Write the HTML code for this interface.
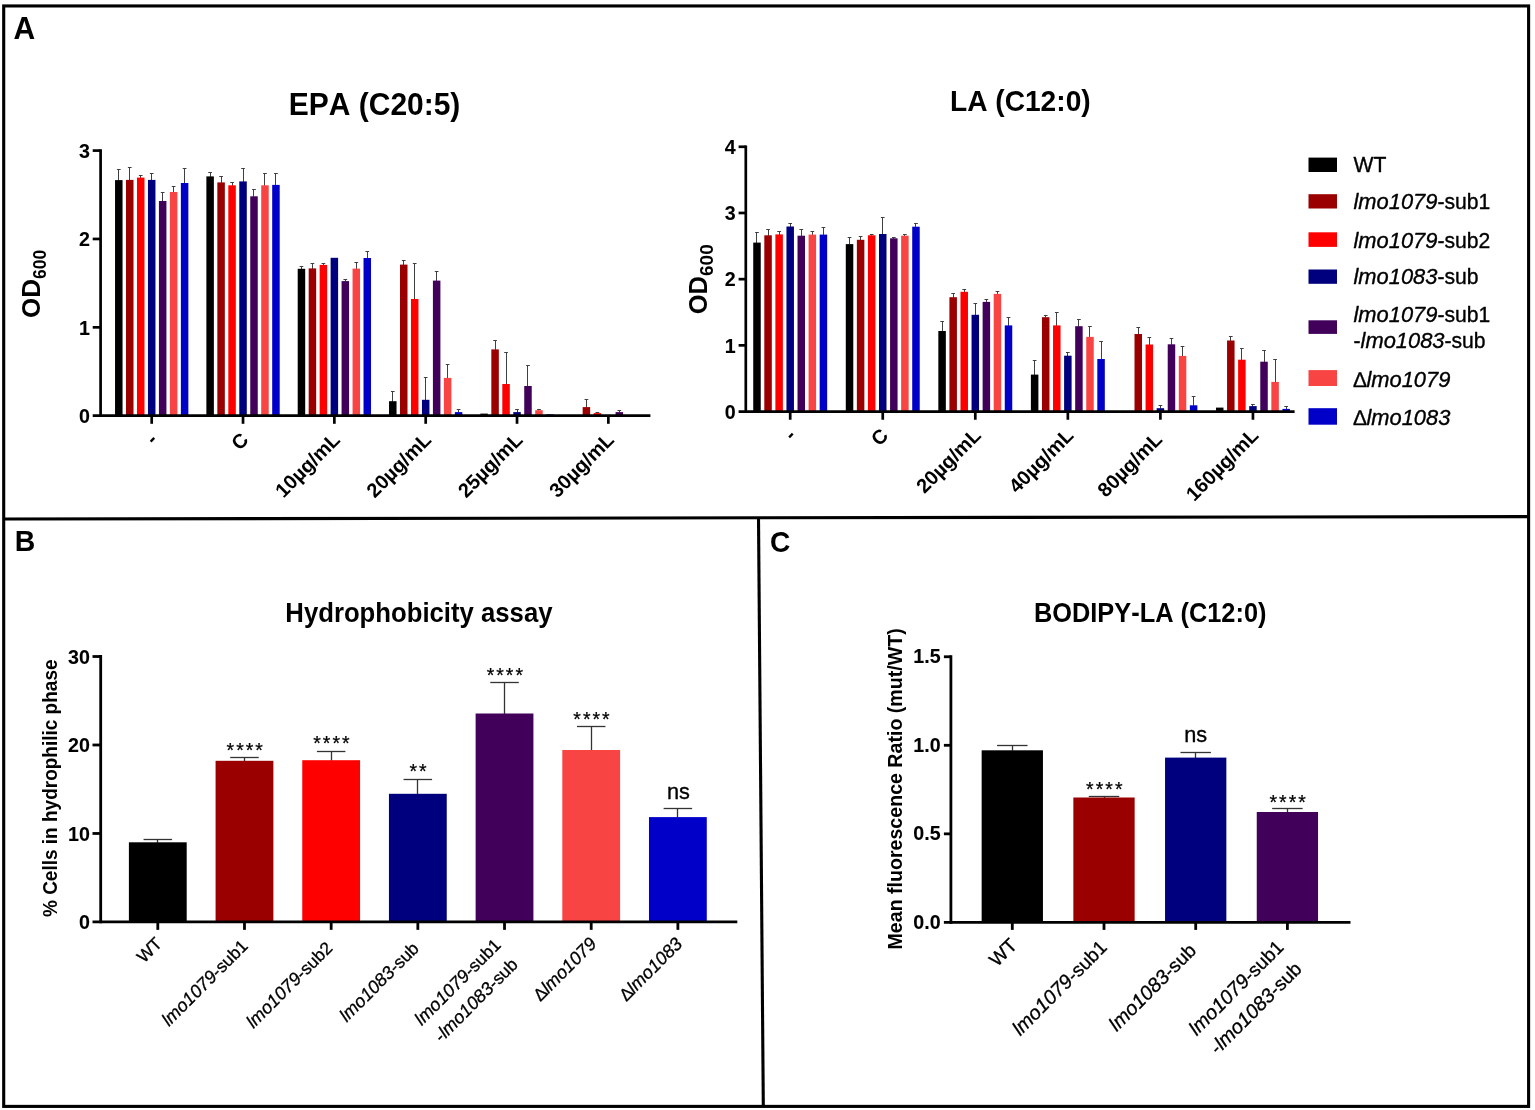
<!DOCTYPE html>
<html lang="en">
<head>
<meta charset="utf-8">
<title>Fatty acid susceptibility, hydrophobicity assay and BODIPY-LA uptake</title>
<style>
html,body{margin:0;padding:0;background:#fff;}
body{width:1535px;height:1110px;overflow:hidden;}
svg{display:block;font-family:"Liberation Sans",sans-serif;fill:#000;font-kerning:none;}
</style>
</head>
<body>
<svg width="1535" height="1110" viewBox="0 0 1535 1110" role="img" aria-label="Figure with panels A, B and C: growth (OD600) with EPA and LA, hydrophobicity assay, and BODIPY-LA fluorescence ratio">
<rect x="0" y="0" width="1535" height="1110" fill="#fff"/>
<rect x="3.7" y="5.95" width="1524.9" height="1100.45" fill="none" stroke="#000" stroke-width="3.1"/>
<line x1="3.70" y1="519.00" x2="1528.60" y2="516.60" stroke="#000" stroke-width="3.1" stroke-linecap="butt"/>
<line x1="758.50" y1="517.50" x2="763.30" y2="1106.00" stroke="#000" stroke-width="3.1" stroke-linecap="butt"/>
<text x="0" y="0" font-size="31" font-weight="bold" text-anchor="start" transform="translate(13.40 38.90) scale(0.97 1)">A</text>
<text x="0" y="0" font-size="29.3" font-weight="bold" text-anchor="start" transform="translate(14.70 551.20) scale(0.97 1)">B</text>
<text x="0" y="0" font-size="30.3" font-weight="bold" text-anchor="start" transform="translate(769.90 551.50) scale(0.93 1)">C</text>
<text x="0" y="0" font-size="31.3" font-weight="bold" text-anchor="middle" transform="translate(374.60 115.20) scale(0.958 1)">EPA (C20:5)</text>
<text x="0" y="0" font-size="30.3" font-weight="bold" text-anchor="middle" transform="translate(1020.30 111.10) scale(0.929 1)">LA (C12:0)</text>
<text x="0" y="0" font-size="26.8" font-weight="bold" text-anchor="middle" transform="translate(418.90 622.20) scale(0.96 1)">Hydrophobicity assay</text>
<text x="0" y="0" font-size="26.8" font-weight="bold" text-anchor="middle" transform="translate(1150.20 622.30) scale(0.947 1)">BODIPY-LA (C12:0)</text>
<line x1="118.50" y1="169.50" x2="118.50" y2="180.60" stroke="#404040" stroke-width="1.0" stroke-linecap="butt"/>
<line x1="116.94" y1="169.50" x2="120.64" y2="169.50" stroke="#404040" stroke-width="1.0" stroke-linecap="butt"/>
<rect x="115.04" y="180.10" width="7.50" height="235.60" fill="#000000"/>
<line x1="129.50" y1="167.50" x2="129.50" y2="180.40" stroke="#404040" stroke-width="1.0" stroke-linecap="butt"/>
<line x1="127.91" y1="167.50" x2="131.61" y2="167.50" stroke="#404040" stroke-width="1.0" stroke-linecap="butt"/>
<rect x="126.01" y="179.90" width="7.50" height="235.80" fill="#9a0000"/>
<line x1="140.50" y1="175.50" x2="140.50" y2="178.10" stroke="#404040" stroke-width="1.0" stroke-linecap="butt"/>
<line x1="138.88" y1="175.50" x2="142.58" y2="175.50" stroke="#404040" stroke-width="1.0" stroke-linecap="butt"/>
<rect x="136.98" y="177.60" width="7.50" height="238.10" fill="#ff0000"/>
<line x1="151.50" y1="173.50" x2="151.50" y2="180.40" stroke="#404040" stroke-width="1.0" stroke-linecap="butt"/>
<line x1="149.85" y1="173.50" x2="153.55" y2="173.50" stroke="#404040" stroke-width="1.0" stroke-linecap="butt"/>
<rect x="147.95" y="179.90" width="7.50" height="235.80" fill="#00007f"/>
<line x1="162.50" y1="192.50" x2="162.50" y2="201.50" stroke="#404040" stroke-width="1.0" stroke-linecap="butt"/>
<line x1="160.82" y1="192.50" x2="164.52" y2="192.50" stroke="#404040" stroke-width="1.0" stroke-linecap="butt"/>
<rect x="158.92" y="201.00" width="7.50" height="214.70" fill="#41005a"/>
<line x1="173.50" y1="186.50" x2="173.50" y2="192.50" stroke="#404040" stroke-width="1.0" stroke-linecap="butt"/>
<line x1="171.79" y1="186.50" x2="175.49" y2="186.50" stroke="#404040" stroke-width="1.0" stroke-linecap="butt"/>
<rect x="169.89" y="192.00" width="7.50" height="223.70" fill="#f94444"/>
<line x1="184.50" y1="168.50" x2="184.50" y2="183.50" stroke="#404040" stroke-width="1.0" stroke-linecap="butt"/>
<line x1="182.76" y1="168.50" x2="186.46" y2="168.50" stroke="#404040" stroke-width="1.0" stroke-linecap="butt"/>
<rect x="180.86" y="183.00" width="7.50" height="232.70" fill="#0000c8"/>
<line x1="210.50" y1="172.50" x2="210.50" y2="176.90" stroke="#404040" stroke-width="1.0" stroke-linecap="butt"/>
<line x1="208.27" y1="172.50" x2="211.97" y2="172.50" stroke="#404040" stroke-width="1.0" stroke-linecap="butt"/>
<rect x="206.37" y="176.40" width="7.50" height="239.30" fill="#000000"/>
<line x1="221.50" y1="176.50" x2="221.50" y2="182.90" stroke="#404040" stroke-width="1.0" stroke-linecap="butt"/>
<line x1="219.24" y1="176.50" x2="222.94" y2="176.50" stroke="#404040" stroke-width="1.0" stroke-linecap="butt"/>
<rect x="217.34" y="182.40" width="7.50" height="233.30" fill="#9a0000"/>
<line x1="232.50" y1="182.50" x2="232.50" y2="185.80" stroke="#404040" stroke-width="1.0" stroke-linecap="butt"/>
<line x1="230.21" y1="182.50" x2="233.91" y2="182.50" stroke="#404040" stroke-width="1.0" stroke-linecap="butt"/>
<rect x="228.31" y="185.30" width="7.50" height="230.40" fill="#ff0000"/>
<line x1="243.50" y1="168.50" x2="243.50" y2="181.90" stroke="#404040" stroke-width="1.0" stroke-linecap="butt"/>
<line x1="241.18" y1="168.50" x2="244.88" y2="168.50" stroke="#404040" stroke-width="1.0" stroke-linecap="butt"/>
<rect x="239.28" y="181.40" width="7.50" height="234.30" fill="#00007f"/>
<line x1="253.50" y1="189.50" x2="253.50" y2="196.80" stroke="#404040" stroke-width="1.0" stroke-linecap="butt"/>
<line x1="252.15" y1="189.50" x2="255.85" y2="189.50" stroke="#404040" stroke-width="1.0" stroke-linecap="butt"/>
<rect x="250.25" y="196.30" width="7.50" height="219.40" fill="#41005a"/>
<line x1="264.50" y1="173.50" x2="264.50" y2="185.80" stroke="#404040" stroke-width="1.0" stroke-linecap="butt"/>
<line x1="263.12" y1="173.50" x2="266.82" y2="173.50" stroke="#404040" stroke-width="1.0" stroke-linecap="butt"/>
<rect x="261.22" y="185.30" width="7.50" height="230.40" fill="#f94444"/>
<line x1="275.50" y1="173.50" x2="275.50" y2="185.40" stroke="#404040" stroke-width="1.0" stroke-linecap="butt"/>
<line x1="274.09" y1="173.50" x2="277.79" y2="173.50" stroke="#404040" stroke-width="1.0" stroke-linecap="butt"/>
<rect x="272.19" y="184.90" width="7.50" height="230.80" fill="#0000c8"/>
<line x1="301.50" y1="266.50" x2="301.50" y2="269.30" stroke="#404040" stroke-width="1.0" stroke-linecap="butt"/>
<line x1="299.60" y1="266.50" x2="303.30" y2="266.50" stroke="#404040" stroke-width="1.0" stroke-linecap="butt"/>
<rect x="297.70" y="268.80" width="7.50" height="146.90" fill="#000000"/>
<line x1="312.50" y1="263.50" x2="312.50" y2="268.90" stroke="#404040" stroke-width="1.0" stroke-linecap="butt"/>
<line x1="310.57" y1="263.50" x2="314.27" y2="263.50" stroke="#404040" stroke-width="1.0" stroke-linecap="butt"/>
<rect x="308.67" y="268.40" width="7.50" height="147.30" fill="#9a0000"/>
<line x1="323.50" y1="263.50" x2="323.50" y2="265.40" stroke="#404040" stroke-width="1.0" stroke-linecap="butt"/>
<line x1="321.54" y1="263.50" x2="325.24" y2="263.50" stroke="#404040" stroke-width="1.0" stroke-linecap="butt"/>
<rect x="319.64" y="264.90" width="7.50" height="150.80" fill="#ff0000"/>
<rect x="330.61" y="257.80" width="7.50" height="157.90" fill="#00007f"/>
<line x1="345.50" y1="279.50" x2="345.50" y2="281.60" stroke="#404040" stroke-width="1.0" stroke-linecap="butt"/>
<line x1="343.48" y1="279.50" x2="347.18" y2="279.50" stroke="#404040" stroke-width="1.0" stroke-linecap="butt"/>
<rect x="341.58" y="281.10" width="7.50" height="134.60" fill="#41005a"/>
<line x1="356.50" y1="262.50" x2="356.50" y2="269.10" stroke="#404040" stroke-width="1.0" stroke-linecap="butt"/>
<line x1="354.45" y1="262.50" x2="358.15" y2="262.50" stroke="#404040" stroke-width="1.0" stroke-linecap="butt"/>
<rect x="352.55" y="268.60" width="7.50" height="147.10" fill="#f94444"/>
<line x1="367.50" y1="251.50" x2="367.50" y2="258.50" stroke="#404040" stroke-width="1.0" stroke-linecap="butt"/>
<line x1="365.42" y1="251.50" x2="369.12" y2="251.50" stroke="#404040" stroke-width="1.0" stroke-linecap="butt"/>
<rect x="363.52" y="258.00" width="7.50" height="157.70" fill="#0000c8"/>
<line x1="392.50" y1="391.50" x2="392.50" y2="401.70" stroke="#404040" stroke-width="1.0" stroke-linecap="butt"/>
<line x1="390.93" y1="391.50" x2="394.63" y2="391.50" stroke="#404040" stroke-width="1.0" stroke-linecap="butt"/>
<rect x="389.03" y="401.20" width="7.50" height="14.50" fill="#000000"/>
<line x1="403.50" y1="260.50" x2="403.50" y2="265.10" stroke="#404040" stroke-width="1.0" stroke-linecap="butt"/>
<line x1="401.90" y1="260.50" x2="405.60" y2="260.50" stroke="#404040" stroke-width="1.0" stroke-linecap="butt"/>
<rect x="400.00" y="264.60" width="7.50" height="151.10" fill="#9a0000"/>
<line x1="414.50" y1="263.50" x2="414.50" y2="299.50" stroke="#404040" stroke-width="1.0" stroke-linecap="butt"/>
<line x1="412.87" y1="263.50" x2="416.57" y2="263.50" stroke="#404040" stroke-width="1.0" stroke-linecap="butt"/>
<rect x="410.97" y="299.00" width="7.50" height="116.70" fill="#ff0000"/>
<line x1="425.50" y1="377.50" x2="425.50" y2="400.30" stroke="#404040" stroke-width="1.0" stroke-linecap="butt"/>
<line x1="423.84" y1="377.50" x2="427.54" y2="377.50" stroke="#404040" stroke-width="1.0" stroke-linecap="butt"/>
<rect x="421.94" y="399.80" width="7.50" height="15.90" fill="#00007f"/>
<line x1="436.50" y1="271.50" x2="436.50" y2="281.10" stroke="#404040" stroke-width="1.0" stroke-linecap="butt"/>
<line x1="434.81" y1="271.50" x2="438.51" y2="271.50" stroke="#404040" stroke-width="1.0" stroke-linecap="butt"/>
<rect x="432.91" y="280.60" width="7.50" height="135.10" fill="#41005a"/>
<line x1="447.50" y1="364.50" x2="447.50" y2="378.40" stroke="#404040" stroke-width="1.0" stroke-linecap="butt"/>
<line x1="445.78" y1="364.50" x2="449.48" y2="364.50" stroke="#404040" stroke-width="1.0" stroke-linecap="butt"/>
<rect x="443.88" y="377.90" width="7.50" height="37.80" fill="#f94444"/>
<line x1="458.50" y1="409.50" x2="458.50" y2="412.60" stroke="#404040" stroke-width="1.0" stroke-linecap="butt"/>
<line x1="456.75" y1="409.50" x2="460.45" y2="409.50" stroke="#404040" stroke-width="1.0" stroke-linecap="butt"/>
<rect x="454.85" y="412.10" width="7.50" height="3.60" fill="#0000c8"/>
<rect x="480.36" y="413.60" width="7.50" height="2.10" fill="#000000"/>
<line x1="495.50" y1="340.50" x2="495.50" y2="349.90" stroke="#404040" stroke-width="1.0" stroke-linecap="butt"/>
<line x1="493.23" y1="340.50" x2="496.93" y2="340.50" stroke="#404040" stroke-width="1.0" stroke-linecap="butt"/>
<rect x="491.33" y="349.40" width="7.50" height="66.30" fill="#9a0000"/>
<line x1="506.50" y1="352.50" x2="506.50" y2="384.50" stroke="#404040" stroke-width="1.0" stroke-linecap="butt"/>
<line x1="504.20" y1="352.50" x2="507.90" y2="352.50" stroke="#404040" stroke-width="1.0" stroke-linecap="butt"/>
<rect x="502.30" y="384.00" width="7.50" height="31.70" fill="#ff0000"/>
<line x1="517.50" y1="409.50" x2="517.50" y2="412.60" stroke="#404040" stroke-width="1.0" stroke-linecap="butt"/>
<line x1="515.17" y1="409.50" x2="518.87" y2="409.50" stroke="#404040" stroke-width="1.0" stroke-linecap="butt"/>
<rect x="513.27" y="412.10" width="7.50" height="3.60" fill="#00007f"/>
<line x1="527.50" y1="365.50" x2="527.50" y2="386.50" stroke="#404040" stroke-width="1.0" stroke-linecap="butt"/>
<line x1="526.14" y1="365.50" x2="529.84" y2="365.50" stroke="#404040" stroke-width="1.0" stroke-linecap="butt"/>
<rect x="524.24" y="386.00" width="7.50" height="29.70" fill="#41005a"/>
<line x1="538.50" y1="409.50" x2="538.50" y2="410.70" stroke="#404040" stroke-width="1.0" stroke-linecap="butt"/>
<line x1="537.11" y1="409.50" x2="540.81" y2="409.50" stroke="#404040" stroke-width="1.0" stroke-linecap="butt"/>
<rect x="535.21" y="410.20" width="7.50" height="5.50" fill="#f94444"/>
<rect x="546.18" y="414.30" width="7.50" height="1.40" fill="#0000c8"/>
<line x1="586.50" y1="399.50" x2="586.50" y2="407.60" stroke="#404040" stroke-width="1.0" stroke-linecap="butt"/>
<line x1="584.56" y1="399.50" x2="588.26" y2="399.50" stroke="#404040" stroke-width="1.0" stroke-linecap="butt"/>
<rect x="582.66" y="407.10" width="7.50" height="8.60" fill="#9a0000"/>
<line x1="597.50" y1="412.50" x2="597.50" y2="413.60" stroke="#404040" stroke-width="1.0" stroke-linecap="butt"/>
<line x1="595.53" y1="412.50" x2="599.23" y2="412.50" stroke="#404040" stroke-width="1.0" stroke-linecap="butt"/>
<rect x="593.63" y="413.10" width="7.50" height="2.60" fill="#ff0000"/>
<line x1="619.50" y1="410.50" x2="619.50" y2="412.60" stroke="#404040" stroke-width="1.0" stroke-linecap="butt"/>
<line x1="617.47" y1="410.50" x2="621.17" y2="410.50" stroke="#404040" stroke-width="1.0" stroke-linecap="butt"/>
<rect x="615.57" y="412.10" width="7.50" height="3.60" fill="#41005a"/>
<line x1="100.60" y1="149.25" x2="100.60" y2="417.05" stroke="#000" stroke-width="2.7" stroke-linecap="butt"/>
<line x1="92.70" y1="415.70" x2="650.40" y2="415.70" stroke="#000" stroke-width="2.7" stroke-linecap="butt"/>
<text x="0" y="0" font-size="20.7" font-weight="bold" text-anchor="end" transform="translate(90.05 422.90) scale(0.95 1)" stroke="#000" stroke-width="0.1" stroke-linejoin="round">0</text>
<line x1="92.70" y1="327.33" x2="100.60" y2="327.33" stroke="#000" stroke-width="2.7" stroke-linecap="butt"/>
<text x="0" y="0" font-size="20.7" font-weight="bold" text-anchor="end" transform="translate(90.05 334.53) scale(0.95 1)" stroke="#000" stroke-width="0.1" stroke-linejoin="round">1</text>
<line x1="92.70" y1="238.96" x2="100.60" y2="238.96" stroke="#000" stroke-width="2.7" stroke-linecap="butt"/>
<text x="0" y="0" font-size="20.7" font-weight="bold" text-anchor="end" transform="translate(90.05 246.16) scale(0.95 1)" stroke="#000" stroke-width="0.1" stroke-linejoin="round">2</text>
<line x1="92.70" y1="150.59" x2="100.60" y2="150.59" stroke="#000" stroke-width="2.7" stroke-linecap="butt"/>
<text x="0" y="0" font-size="20.7" font-weight="bold" text-anchor="end" transform="translate(90.05 157.79) scale(0.95 1)" stroke="#000" stroke-width="0.1" stroke-linejoin="round">3</text>
<line x1="151.70" y1="415.70" x2="151.70" y2="423.80" stroke="#000" stroke-width="2.7" stroke-linecap="butt"/>
<line x1="243.03" y1="415.70" x2="243.03" y2="423.80" stroke="#000" stroke-width="2.7" stroke-linecap="butt"/>
<line x1="334.36" y1="415.70" x2="334.36" y2="423.80" stroke="#000" stroke-width="2.7" stroke-linecap="butt"/>
<line x1="425.69" y1="415.70" x2="425.69" y2="423.80" stroke="#000" stroke-width="2.7" stroke-linecap="butt"/>
<line x1="517.02" y1="415.70" x2="517.02" y2="423.80" stroke="#000" stroke-width="2.7" stroke-linecap="butt"/>
<line x1="608.35" y1="415.70" x2="608.35" y2="423.80" stroke="#000" stroke-width="2.7" stroke-linecap="butt"/>
<text x="158.50" y="441.00" font-size="20" font-weight="bold" text-anchor="end" transform="rotate(-45 158.50 441.00)">-</text>
<text x="249.83" y="441.00" font-size="20" font-weight="bold" text-anchor="end" transform="rotate(-45 249.83 441.00)">C</text>
<text x="341.16" y="441.00" font-size="20" font-weight="bold" text-anchor="end" transform="rotate(-45 341.16 441.00)">10µg/mL</text>
<text x="432.49" y="441.00" font-size="20" font-weight="bold" text-anchor="end" transform="rotate(-45 432.49 441.00)">20µg/mL</text>
<text x="523.82" y="441.00" font-size="20" font-weight="bold" text-anchor="end" transform="rotate(-45 523.82 441.00)">25µg/mL</text>
<text x="615.15" y="441.00" font-size="20" font-weight="bold" text-anchor="end" transform="rotate(-45 615.15 441.00)">30µg/mL</text>
<line x1="756.50" y1="232.50" x2="756.50" y2="243.10" stroke="#404040" stroke-width="1.0" stroke-linecap="butt"/>
<line x1="755.14" y1="232.50" x2="758.84" y2="232.50" stroke="#404040" stroke-width="1.0" stroke-linecap="butt"/>
<rect x="753.24" y="242.60" width="7.50" height="168.95" fill="#000000"/>
<line x1="768.50" y1="229.50" x2="768.50" y2="235.80" stroke="#404040" stroke-width="1.0" stroke-linecap="butt"/>
<line x1="766.21" y1="229.50" x2="769.91" y2="229.50" stroke="#404040" stroke-width="1.0" stroke-linecap="butt"/>
<rect x="764.31" y="235.30" width="7.50" height="176.25" fill="#9a0000"/>
<line x1="779.50" y1="231.50" x2="779.50" y2="234.90" stroke="#404040" stroke-width="1.0" stroke-linecap="butt"/>
<line x1="777.28" y1="231.50" x2="780.98" y2="231.50" stroke="#404040" stroke-width="1.0" stroke-linecap="butt"/>
<rect x="775.38" y="234.40" width="7.50" height="177.15" fill="#ff0000"/>
<line x1="790.50" y1="223.50" x2="790.50" y2="227.00" stroke="#404040" stroke-width="1.0" stroke-linecap="butt"/>
<line x1="788.35" y1="223.50" x2="792.05" y2="223.50" stroke="#404040" stroke-width="1.0" stroke-linecap="butt"/>
<rect x="786.45" y="226.50" width="7.50" height="185.05" fill="#00007f"/>
<line x1="801.50" y1="229.50" x2="801.50" y2="236.20" stroke="#404040" stroke-width="1.0" stroke-linecap="butt"/>
<line x1="799.42" y1="229.50" x2="803.12" y2="229.50" stroke="#404040" stroke-width="1.0" stroke-linecap="butt"/>
<rect x="797.52" y="235.70" width="7.50" height="175.85" fill="#41005a"/>
<line x1="812.50" y1="231.50" x2="812.50" y2="235.10" stroke="#404040" stroke-width="1.0" stroke-linecap="butt"/>
<line x1="810.49" y1="231.50" x2="814.19" y2="231.50" stroke="#404040" stroke-width="1.0" stroke-linecap="butt"/>
<rect x="808.59" y="234.60" width="7.50" height="176.95" fill="#f94444"/>
<line x1="823.50" y1="227.50" x2="823.50" y2="235.10" stroke="#404040" stroke-width="1.0" stroke-linecap="butt"/>
<line x1="821.56" y1="227.50" x2="825.26" y2="227.50" stroke="#404040" stroke-width="1.0" stroke-linecap="butt"/>
<rect x="819.66" y="234.60" width="7.50" height="176.95" fill="#0000c8"/>
<line x1="849.50" y1="237.50" x2="849.50" y2="244.60" stroke="#404040" stroke-width="1.0" stroke-linecap="butt"/>
<line x1="847.69" y1="237.50" x2="851.39" y2="237.50" stroke="#404040" stroke-width="1.0" stroke-linecap="butt"/>
<rect x="845.79" y="244.10" width="7.50" height="167.45" fill="#000000"/>
<line x1="860.50" y1="236.50" x2="860.50" y2="240.30" stroke="#404040" stroke-width="1.0" stroke-linecap="butt"/>
<line x1="858.76" y1="236.50" x2="862.46" y2="236.50" stroke="#404040" stroke-width="1.0" stroke-linecap="butt"/>
<rect x="856.86" y="239.80" width="7.50" height="171.75" fill="#9a0000"/>
<line x1="871.50" y1="234.50" x2="871.50" y2="235.80" stroke="#404040" stroke-width="1.0" stroke-linecap="butt"/>
<line x1="869.83" y1="234.50" x2="873.53" y2="234.50" stroke="#404040" stroke-width="1.0" stroke-linecap="butt"/>
<rect x="867.93" y="235.30" width="7.50" height="176.25" fill="#ff0000"/>
<line x1="882.50" y1="217.50" x2="882.50" y2="234.50" stroke="#404040" stroke-width="1.0" stroke-linecap="butt"/>
<line x1="880.90" y1="217.50" x2="884.60" y2="217.50" stroke="#404040" stroke-width="1.0" stroke-linecap="butt"/>
<rect x="879.00" y="234.00" width="7.50" height="177.55" fill="#00007f"/>
<line x1="893.50" y1="237.50" x2="893.50" y2="238.80" stroke="#404040" stroke-width="1.0" stroke-linecap="butt"/>
<line x1="891.97" y1="237.50" x2="895.67" y2="237.50" stroke="#404040" stroke-width="1.0" stroke-linecap="butt"/>
<rect x="890.07" y="238.30" width="7.50" height="173.25" fill="#41005a"/>
<line x1="904.50" y1="234.50" x2="904.50" y2="236.20" stroke="#404040" stroke-width="1.0" stroke-linecap="butt"/>
<line x1="903.04" y1="234.50" x2="906.74" y2="234.50" stroke="#404040" stroke-width="1.0" stroke-linecap="butt"/>
<rect x="901.14" y="235.70" width="7.50" height="175.85" fill="#f94444"/>
<line x1="915.50" y1="223.50" x2="915.50" y2="227.20" stroke="#404040" stroke-width="1.0" stroke-linecap="butt"/>
<line x1="914.11" y1="223.50" x2="917.81" y2="223.50" stroke="#404040" stroke-width="1.0" stroke-linecap="butt"/>
<rect x="912.21" y="226.70" width="7.50" height="184.85" fill="#0000c8"/>
<line x1="942.50" y1="321.50" x2="942.50" y2="331.50" stroke="#404040" stroke-width="1.0" stroke-linecap="butt"/>
<line x1="940.24" y1="321.50" x2="943.94" y2="321.50" stroke="#404040" stroke-width="1.0" stroke-linecap="butt"/>
<rect x="938.34" y="331.00" width="7.50" height="80.55" fill="#000000"/>
<line x1="953.50" y1="293.50" x2="953.50" y2="297.70" stroke="#404040" stroke-width="1.0" stroke-linecap="butt"/>
<line x1="951.31" y1="293.50" x2="955.01" y2="293.50" stroke="#404040" stroke-width="1.0" stroke-linecap="butt"/>
<rect x="949.41" y="297.20" width="7.50" height="114.35" fill="#9a0000"/>
<line x1="964.50" y1="289.50" x2="964.50" y2="292.30" stroke="#404040" stroke-width="1.0" stroke-linecap="butt"/>
<line x1="962.38" y1="289.50" x2="966.08" y2="289.50" stroke="#404040" stroke-width="1.0" stroke-linecap="butt"/>
<rect x="960.48" y="291.80" width="7.50" height="119.75" fill="#ff0000"/>
<line x1="975.50" y1="303.50" x2="975.50" y2="315.30" stroke="#404040" stroke-width="1.0" stroke-linecap="butt"/>
<line x1="973.45" y1="303.50" x2="977.15" y2="303.50" stroke="#404040" stroke-width="1.0" stroke-linecap="butt"/>
<rect x="971.55" y="314.80" width="7.50" height="96.75" fill="#00007f"/>
<line x1="986.50" y1="299.50" x2="986.50" y2="302.40" stroke="#404040" stroke-width="1.0" stroke-linecap="butt"/>
<line x1="984.52" y1="299.50" x2="988.22" y2="299.50" stroke="#404040" stroke-width="1.0" stroke-linecap="butt"/>
<rect x="982.62" y="301.90" width="7.50" height="109.65" fill="#41005a"/>
<line x1="997.50" y1="291.50" x2="997.50" y2="294.40" stroke="#404040" stroke-width="1.0" stroke-linecap="butt"/>
<line x1="995.59" y1="291.50" x2="999.29" y2="291.50" stroke="#404040" stroke-width="1.0" stroke-linecap="butt"/>
<rect x="993.69" y="293.90" width="7.50" height="117.65" fill="#f94444"/>
<line x1="1008.50" y1="317.50" x2="1008.50" y2="325.90" stroke="#404040" stroke-width="1.0" stroke-linecap="butt"/>
<line x1="1006.66" y1="317.50" x2="1010.36" y2="317.50" stroke="#404040" stroke-width="1.0" stroke-linecap="butt"/>
<rect x="1004.76" y="325.40" width="7.50" height="86.15" fill="#0000c8"/>
<line x1="1034.50" y1="360.50" x2="1034.50" y2="375.10" stroke="#404040" stroke-width="1.0" stroke-linecap="butt"/>
<line x1="1032.79" y1="360.50" x2="1036.49" y2="360.50" stroke="#404040" stroke-width="1.0" stroke-linecap="butt"/>
<rect x="1030.89" y="374.60" width="7.50" height="36.95" fill="#000000"/>
<line x1="1045.50" y1="315.50" x2="1045.50" y2="317.70" stroke="#404040" stroke-width="1.0" stroke-linecap="butt"/>
<line x1="1043.86" y1="315.50" x2="1047.56" y2="315.50" stroke="#404040" stroke-width="1.0" stroke-linecap="butt"/>
<rect x="1041.96" y="317.20" width="7.50" height="94.35" fill="#9a0000"/>
<line x1="1056.50" y1="312.50" x2="1056.50" y2="325.90" stroke="#404040" stroke-width="1.0" stroke-linecap="butt"/>
<line x1="1054.93" y1="312.50" x2="1058.63" y2="312.50" stroke="#404040" stroke-width="1.0" stroke-linecap="butt"/>
<rect x="1053.03" y="325.40" width="7.50" height="86.15" fill="#ff0000"/>
<line x1="1067.50" y1="352.50" x2="1067.50" y2="356.20" stroke="#404040" stroke-width="1.0" stroke-linecap="butt"/>
<line x1="1066.00" y1="352.50" x2="1069.70" y2="352.50" stroke="#404040" stroke-width="1.0" stroke-linecap="butt"/>
<rect x="1064.10" y="355.70" width="7.50" height="55.85" fill="#00007f"/>
<line x1="1078.50" y1="319.50" x2="1078.50" y2="326.70" stroke="#404040" stroke-width="1.0" stroke-linecap="butt"/>
<line x1="1077.07" y1="319.50" x2="1080.77" y2="319.50" stroke="#404040" stroke-width="1.0" stroke-linecap="butt"/>
<rect x="1075.17" y="326.20" width="7.50" height="85.35" fill="#41005a"/>
<line x1="1089.50" y1="326.50" x2="1089.50" y2="337.40" stroke="#404040" stroke-width="1.0" stroke-linecap="butt"/>
<line x1="1088.14" y1="326.50" x2="1091.84" y2="326.50" stroke="#404040" stroke-width="1.0" stroke-linecap="butt"/>
<rect x="1086.24" y="336.90" width="7.50" height="74.65" fill="#f94444"/>
<line x1="1101.50" y1="341.50" x2="1101.50" y2="359.50" stroke="#404040" stroke-width="1.0" stroke-linecap="butt"/>
<line x1="1099.21" y1="341.50" x2="1102.91" y2="341.50" stroke="#404040" stroke-width="1.0" stroke-linecap="butt"/>
<rect x="1097.31" y="359.00" width="7.50" height="52.55" fill="#0000c8"/>
<line x1="1138.50" y1="327.50" x2="1138.50" y2="334.50" stroke="#404040" stroke-width="1.0" stroke-linecap="butt"/>
<line x1="1136.41" y1="327.50" x2="1140.11" y2="327.50" stroke="#404040" stroke-width="1.0" stroke-linecap="butt"/>
<rect x="1134.51" y="334.00" width="7.50" height="77.55" fill="#9a0000"/>
<line x1="1149.50" y1="337.50" x2="1149.50" y2="345.00" stroke="#404040" stroke-width="1.0" stroke-linecap="butt"/>
<line x1="1147.48" y1="337.50" x2="1151.18" y2="337.50" stroke="#404040" stroke-width="1.0" stroke-linecap="butt"/>
<rect x="1145.58" y="344.50" width="7.50" height="67.05" fill="#ff0000"/>
<line x1="1160.50" y1="405.50" x2="1160.50" y2="408.70" stroke="#404040" stroke-width="1.0" stroke-linecap="butt"/>
<line x1="1158.55" y1="405.50" x2="1162.25" y2="405.50" stroke="#404040" stroke-width="1.0" stroke-linecap="butt"/>
<rect x="1156.65" y="408.20" width="7.50" height="3.35" fill="#00007f"/>
<line x1="1171.50" y1="338.50" x2="1171.50" y2="344.80" stroke="#404040" stroke-width="1.0" stroke-linecap="butt"/>
<line x1="1169.62" y1="338.50" x2="1173.32" y2="338.50" stroke="#404040" stroke-width="1.0" stroke-linecap="butt"/>
<rect x="1167.72" y="344.30" width="7.50" height="67.25" fill="#41005a"/>
<line x1="1182.50" y1="346.50" x2="1182.50" y2="356.40" stroke="#404040" stroke-width="1.0" stroke-linecap="butt"/>
<line x1="1180.69" y1="346.50" x2="1184.39" y2="346.50" stroke="#404040" stroke-width="1.0" stroke-linecap="butt"/>
<rect x="1178.79" y="355.90" width="7.50" height="55.65" fill="#f94444"/>
<line x1="1193.50" y1="396.50" x2="1193.50" y2="405.80" stroke="#404040" stroke-width="1.0" stroke-linecap="butt"/>
<line x1="1191.76" y1="396.50" x2="1195.46" y2="396.50" stroke="#404040" stroke-width="1.0" stroke-linecap="butt"/>
<rect x="1189.86" y="405.30" width="7.50" height="6.25" fill="#0000c8"/>
<rect x="1215.99" y="407.60" width="7.50" height="3.95" fill="#000000"/>
<line x1="1230.50" y1="336.50" x2="1230.50" y2="341.00" stroke="#404040" stroke-width="1.0" stroke-linecap="butt"/>
<line x1="1228.96" y1="336.50" x2="1232.66" y2="336.50" stroke="#404040" stroke-width="1.0" stroke-linecap="butt"/>
<rect x="1227.06" y="340.50" width="7.50" height="71.05" fill="#9a0000"/>
<line x1="1241.50" y1="348.50" x2="1241.50" y2="360.20" stroke="#404040" stroke-width="1.0" stroke-linecap="butt"/>
<line x1="1240.03" y1="348.50" x2="1243.73" y2="348.50" stroke="#404040" stroke-width="1.0" stroke-linecap="butt"/>
<rect x="1238.13" y="359.70" width="7.50" height="51.85" fill="#ff0000"/>
<line x1="1252.50" y1="404.50" x2="1252.50" y2="406.60" stroke="#404040" stroke-width="1.0" stroke-linecap="butt"/>
<line x1="1251.10" y1="404.50" x2="1254.80" y2="404.50" stroke="#404040" stroke-width="1.0" stroke-linecap="butt"/>
<rect x="1249.20" y="406.10" width="7.50" height="5.45" fill="#00007f"/>
<line x1="1264.50" y1="350.50" x2="1264.50" y2="362.20" stroke="#404040" stroke-width="1.0" stroke-linecap="butt"/>
<line x1="1262.17" y1="350.50" x2="1265.87" y2="350.50" stroke="#404040" stroke-width="1.0" stroke-linecap="butt"/>
<rect x="1260.27" y="361.70" width="7.50" height="49.85" fill="#41005a"/>
<line x1="1275.50" y1="359.50" x2="1275.50" y2="382.40" stroke="#404040" stroke-width="1.0" stroke-linecap="butt"/>
<line x1="1273.24" y1="359.50" x2="1276.94" y2="359.50" stroke="#404040" stroke-width="1.0" stroke-linecap="butt"/>
<rect x="1271.34" y="381.90" width="7.50" height="29.65" fill="#f94444"/>
<line x1="1286.50" y1="406.50" x2="1286.50" y2="409.40" stroke="#404040" stroke-width="1.0" stroke-linecap="butt"/>
<line x1="1284.31" y1="406.50" x2="1288.01" y2="406.50" stroke="#404040" stroke-width="1.0" stroke-linecap="butt"/>
<rect x="1282.41" y="408.90" width="7.50" height="2.65" fill="#0000c8"/>
<line x1="745.80" y1="145.42" x2="745.80" y2="412.90" stroke="#000" stroke-width="2.7" stroke-linecap="butt"/>
<line x1="738.60" y1="411.55" x2="1294.60" y2="411.55" stroke="#000" stroke-width="2.7" stroke-linecap="butt"/>
<text x="0" y="0" font-size="20.7" font-weight="bold" text-anchor="end" transform="translate(735.60 418.75) scale(0.95 1)" stroke="#000" stroke-width="0.1" stroke-linejoin="round">0</text>
<line x1="738.60" y1="345.36" x2="745.80" y2="345.36" stroke="#000" stroke-width="2.7" stroke-linecap="butt"/>
<text x="0" y="0" font-size="20.7" font-weight="bold" text-anchor="end" transform="translate(735.60 352.56) scale(0.95 1)" stroke="#000" stroke-width="0.1" stroke-linejoin="round">1</text>
<line x1="738.60" y1="279.16" x2="745.80" y2="279.16" stroke="#000" stroke-width="2.7" stroke-linecap="butt"/>
<text x="0" y="0" font-size="20.7" font-weight="bold" text-anchor="end" transform="translate(735.60 286.36) scale(0.95 1)" stroke="#000" stroke-width="0.1" stroke-linejoin="round">2</text>
<line x1="738.60" y1="212.97" x2="745.80" y2="212.97" stroke="#000" stroke-width="2.7" stroke-linecap="butt"/>
<text x="0" y="0" font-size="20.7" font-weight="bold" text-anchor="end" transform="translate(735.60 220.17) scale(0.95 1)" stroke="#000" stroke-width="0.1" stroke-linejoin="round">3</text>
<line x1="738.60" y1="146.77" x2="745.80" y2="146.77" stroke="#000" stroke-width="2.7" stroke-linecap="butt"/>
<text x="0" y="0" font-size="20.7" font-weight="bold" text-anchor="end" transform="translate(735.60 153.97) scale(0.95 1)" stroke="#000" stroke-width="0.1" stroke-linejoin="round">4</text>
<line x1="790.20" y1="411.55" x2="790.20" y2="419.75" stroke="#000" stroke-width="2.7" stroke-linecap="butt"/>
<line x1="882.75" y1="411.55" x2="882.75" y2="419.75" stroke="#000" stroke-width="2.7" stroke-linecap="butt"/>
<line x1="975.30" y1="411.55" x2="975.30" y2="419.75" stroke="#000" stroke-width="2.7" stroke-linecap="butt"/>
<line x1="1067.85" y1="411.55" x2="1067.85" y2="419.75" stroke="#000" stroke-width="2.7" stroke-linecap="butt"/>
<line x1="1160.40" y1="411.55" x2="1160.40" y2="419.75" stroke="#000" stroke-width="2.7" stroke-linecap="butt"/>
<line x1="1252.95" y1="411.55" x2="1252.95" y2="419.75" stroke="#000" stroke-width="2.7" stroke-linecap="butt"/>
<text x="797.00" y="436.70" font-size="20" font-weight="bold" text-anchor="end" transform="rotate(-45 797.00 436.70)">-</text>
<text x="889.55" y="436.70" font-size="20" font-weight="bold" text-anchor="end" transform="rotate(-45 889.55 436.70)">C</text>
<text x="982.10" y="436.70" font-size="20" font-weight="bold" text-anchor="end" transform="rotate(-45 982.10 436.70)">20µg/mL</text>
<text x="1074.65" y="436.70" font-size="20" font-weight="bold" text-anchor="end" transform="rotate(-45 1074.65 436.70)">40µg/mL</text>
<text x="1163.50" y="440.60" font-size="20" font-weight="bold" text-anchor="end" transform="rotate(-45 1163.50 440.60)">80µg/mL</text>
<text x="1259.75" y="436.70" font-size="20" font-weight="bold" text-anchor="end" transform="rotate(-45 1259.75 436.70)">160µg/mL</text>
<line x1="157.50" y1="839.50" x2="157.50" y2="842.80" stroke="#333333" stroke-width="1.3" stroke-linecap="butt"/>
<line x1="143.55" y1="839.50" x2="172.05" y2="839.50" stroke="#333333" stroke-width="1.3" stroke-linecap="butt"/>
<rect x="128.90" y="842.30" width="57.80" height="79.65" fill="#000000"/>
<line x1="244.50" y1="757.50" x2="244.50" y2="761.30" stroke="#333333" stroke-width="1.3" stroke-linecap="butt"/>
<line x1="230.23" y1="757.50" x2="258.73" y2="757.50" stroke="#333333" stroke-width="1.3" stroke-linecap="butt"/>
<rect x="215.58" y="760.80" width="57.80" height="161.15" fill="#9a0000"/>
<text x="245.78" y="756.50" font-size="19.5" font-weight="normal" text-anchor="middle" letter-spacing="2.0" stroke="#000" stroke-width="0.25" stroke-linejoin="round">****</text>
<line x1="331.50" y1="751.50" x2="331.50" y2="760.70" stroke="#333333" stroke-width="1.3" stroke-linecap="butt"/>
<line x1="316.91" y1="751.50" x2="345.41" y2="751.50" stroke="#333333" stroke-width="1.3" stroke-linecap="butt"/>
<rect x="302.26" y="760.20" width="57.80" height="161.75" fill="#ff0000"/>
<text x="332.46" y="750.40" font-size="19.5" font-weight="normal" text-anchor="middle" letter-spacing="2.0" stroke="#000" stroke-width="0.25" stroke-linejoin="round">****</text>
<line x1="417.50" y1="779.50" x2="417.50" y2="794.30" stroke="#333333" stroke-width="1.3" stroke-linecap="butt"/>
<line x1="403.59" y1="779.50" x2="432.09" y2="779.50" stroke="#333333" stroke-width="1.3" stroke-linecap="butt"/>
<rect x="388.94" y="793.80" width="57.80" height="128.15" fill="#00007f"/>
<text x="419.14" y="778.40" font-size="19.5" font-weight="normal" text-anchor="middle" letter-spacing="2.0" stroke="#000" stroke-width="0.25" stroke-linejoin="round">**</text>
<line x1="504.50" y1="682.50" x2="504.50" y2="714.00" stroke="#333333" stroke-width="1.3" stroke-linecap="butt"/>
<line x1="490.27" y1="682.50" x2="518.77" y2="682.50" stroke="#333333" stroke-width="1.3" stroke-linecap="butt"/>
<rect x="475.62" y="713.50" width="57.80" height="208.45" fill="#41005a"/>
<text x="505.82" y="681.80" font-size="19.5" font-weight="normal" text-anchor="middle" letter-spacing="2.0" stroke="#000" stroke-width="0.25" stroke-linejoin="round">****</text>
<line x1="591.50" y1="726.50" x2="591.50" y2="750.50" stroke="#333333" stroke-width="1.3" stroke-linecap="butt"/>
<line x1="576.95" y1="726.50" x2="605.45" y2="726.50" stroke="#333333" stroke-width="1.3" stroke-linecap="butt"/>
<rect x="562.30" y="750.00" width="57.80" height="171.95" fill="#f94444"/>
<text x="592.50" y="725.60" font-size="19.5" font-weight="normal" text-anchor="middle" letter-spacing="2.0" stroke="#000" stroke-width="0.25" stroke-linejoin="round">****</text>
<line x1="677.50" y1="808.50" x2="677.50" y2="817.60" stroke="#333333" stroke-width="1.3" stroke-linecap="butt"/>
<line x1="663.63" y1="808.50" x2="692.13" y2="808.50" stroke="#333333" stroke-width="1.3" stroke-linecap="butt"/>
<rect x="648.98" y="817.10" width="57.80" height="104.85" fill="#0000c8"/>
<text x="678.38" y="799.00" font-size="21.7" font-weight="normal" text-anchor="middle" stroke="#000" stroke-width="0.35" stroke-linejoin="round">ns</text>
<line x1="100.70" y1="655.10" x2="100.70" y2="923.35" stroke="#000" stroke-width="2.8" stroke-linecap="butt"/>
<line x1="92.50" y1="921.95" x2="737.30" y2="921.95" stroke="#000" stroke-width="2.8" stroke-linecap="butt"/>
<text x="0" y="0" font-size="20.7" font-weight="bold" text-anchor="end" transform="translate(89.85 929.15) scale(0.95 1)" stroke="#000" stroke-width="0.1" stroke-linejoin="round">0</text>
<line x1="92.50" y1="833.47" x2="100.70" y2="833.47" stroke="#000" stroke-width="2.8" stroke-linecap="butt"/>
<text x="0" y="0" font-size="20.7" font-weight="bold" text-anchor="end" transform="translate(89.85 840.67) scale(0.95 1)" stroke="#000" stroke-width="0.1" stroke-linejoin="round">10</text>
<line x1="92.50" y1="744.99" x2="100.70" y2="744.99" stroke="#000" stroke-width="2.8" stroke-linecap="butt"/>
<text x="0" y="0" font-size="20.7" font-weight="bold" text-anchor="end" transform="translate(89.85 752.19) scale(0.95 1)" stroke="#000" stroke-width="0.1" stroke-linejoin="round">20</text>
<line x1="92.50" y1="656.51" x2="100.70" y2="656.51" stroke="#000" stroke-width="2.8" stroke-linecap="butt"/>
<text x="0" y="0" font-size="20.7" font-weight="bold" text-anchor="end" transform="translate(89.85 663.71) scale(0.95 1)" stroke="#000" stroke-width="0.1" stroke-linejoin="round">30</text>
<line x1="157.80" y1="921.95" x2="157.80" y2="929.85" stroke="#000" stroke-width="2.8" stroke-linecap="butt"/>
<line x1="244.48" y1="921.95" x2="244.48" y2="929.85" stroke="#000" stroke-width="2.8" stroke-linecap="butt"/>
<line x1="331.16" y1="921.95" x2="331.16" y2="929.85" stroke="#000" stroke-width="2.8" stroke-linecap="butt"/>
<line x1="417.84" y1="921.95" x2="417.84" y2="929.85" stroke="#000" stroke-width="2.8" stroke-linecap="butt"/>
<line x1="504.52" y1="921.95" x2="504.52" y2="929.85" stroke="#000" stroke-width="2.8" stroke-linecap="butt"/>
<line x1="591.20" y1="921.95" x2="591.20" y2="929.85" stroke="#000" stroke-width="2.8" stroke-linecap="butt"/>
<line x1="677.88" y1="921.95" x2="677.88" y2="929.85" stroke="#000" stroke-width="2.8" stroke-linecap="butt"/>
<text x="163.15" y="944.60" font-size="17.5" font-weight="normal" text-anchor="end" transform="rotate(-45 163.15 944.60)" stroke="#000" stroke-width="0.3" stroke-linejoin="round">WT</text>
<text x="248.98" y="947.00" font-size="17.5" font-weight="normal" text-anchor="end" transform="rotate(-45 248.98 947.00)" stroke="#000" stroke-width="0.3" stroke-linejoin="round"><tspan font-style="italic" style="font-size:1.035em">lmo1079</tspan>-sub1</text>
<text x="333.56" y="949.00" font-size="17.5" font-weight="normal" text-anchor="end" transform="rotate(-45 333.56 949.00)" stroke="#000" stroke-width="0.3" stroke-linejoin="round"><tspan font-style="italic" style="font-size:1.035em">lmo1079</tspan>-sub2</text>
<text x="419.94" y="949.50" font-size="17.5" font-weight="normal" text-anchor="end" transform="rotate(-45 419.94 949.50)" stroke="#000" stroke-width="0.3" stroke-linejoin="round"><tspan font-style="italic" style="font-size:1.035em">lmo1083</tspan>-sub</text>
<text x="501.92" y="946.10" font-size="17.5" font-weight="normal" text-anchor="end" transform="rotate(-45 501.92 946.10)" stroke="#000" stroke-width="0.3" stroke-linejoin="round"><tspan font-style="italic" style="font-size:1.035em">lmo1079</tspan>-sub1</text>
<text x="518.86" y="965.64" font-size="17.5" font-weight="normal" text-anchor="end" transform="rotate(-45 518.86 965.64)" stroke="#000" stroke-width="0.3" stroke-linejoin="round">-<tspan font-style="italic" style="font-size:1.035em">lmo1083</tspan>-sub</text>
<text x="597.50" y="945.00" font-size="17.5" font-weight="normal" text-anchor="end" transform="rotate(-45 597.50 945.00)" stroke="#000" stroke-width="0.3" stroke-linejoin="round">∆<tspan font-style="italic" style="font-size:1.035em">lmo1079</tspan></text>
<text x="683.38" y="945.00" font-size="17.5" font-weight="normal" text-anchor="end" transform="rotate(-45 683.38 945.00)" stroke="#000" stroke-width="0.3" stroke-linejoin="round">∆<tspan font-style="italic" style="font-size:1.035em">lmo1083</tspan></text>
<line x1="1012.50" y1="745.50" x2="1012.50" y2="750.80" stroke="#333333" stroke-width="1.3" stroke-linecap="butt"/>
<line x1="997.05" y1="745.50" x2="1027.55" y2="745.50" stroke="#333333" stroke-width="1.3" stroke-linecap="butt"/>
<rect x="981.65" y="750.30" width="61.30" height="172.10" fill="#000000"/>
<line x1="1104.50" y1="796.50" x2="1104.50" y2="798.00" stroke="#333333" stroke-width="1.3" stroke-linecap="butt"/>
<line x1="1088.75" y1="796.50" x2="1119.25" y2="796.50" stroke="#333333" stroke-width="1.3" stroke-linecap="butt"/>
<rect x="1073.35" y="797.50" width="61.30" height="124.90" fill="#9a0000"/>
<text x="1105.30" y="796.20" font-size="19.5" font-weight="normal" text-anchor="middle" letter-spacing="2.0" stroke="#000" stroke-width="0.25" stroke-linejoin="round">****</text>
<line x1="1195.50" y1="752.50" x2="1195.50" y2="758.10" stroke="#333333" stroke-width="1.3" stroke-linecap="butt"/>
<line x1="1180.45" y1="752.50" x2="1210.95" y2="752.50" stroke="#333333" stroke-width="1.3" stroke-linecap="butt"/>
<rect x="1165.05" y="757.60" width="61.30" height="164.80" fill="#00007f"/>
<text x="1195.70" y="741.60" font-size="21.7" font-weight="normal" text-anchor="middle" stroke="#000" stroke-width="0.35" stroke-linejoin="round">ns</text>
<line x1="1287.50" y1="808.50" x2="1287.50" y2="812.50" stroke="#333333" stroke-width="1.3" stroke-linecap="butt"/>
<line x1="1272.15" y1="808.50" x2="1302.65" y2="808.50" stroke="#333333" stroke-width="1.3" stroke-linecap="butt"/>
<rect x="1256.75" y="812.00" width="61.30" height="110.40" fill="#41005a"/>
<text x="1288.70" y="808.50" font-size="19.5" font-weight="normal" text-anchor="middle" letter-spacing="2.0" stroke="#000" stroke-width="0.25" stroke-linejoin="round">****</text>
<line x1="950.90" y1="655.35" x2="950.90" y2="923.80" stroke="#000" stroke-width="2.8" stroke-linecap="butt"/>
<line x1="943.90" y1="922.40" x2="1350.50" y2="922.40" stroke="#000" stroke-width="2.8" stroke-linecap="butt"/>
<text x="0" y="0" font-size="20.7" font-weight="bold" text-anchor="end" transform="translate(940.60 928.90) scale(0.95 1)" stroke="#000" stroke-width="0.1" stroke-linejoin="round">0.0</text>
<line x1="943.90" y1="833.85" x2="950.90" y2="833.85" stroke="#000" stroke-width="2.8" stroke-linecap="butt"/>
<text x="0" y="0" font-size="20.7" font-weight="bold" text-anchor="end" transform="translate(940.60 840.35) scale(0.95 1)" stroke="#000" stroke-width="0.1" stroke-linejoin="round">0.5</text>
<line x1="943.90" y1="745.30" x2="950.90" y2="745.30" stroke="#000" stroke-width="2.8" stroke-linecap="butt"/>
<text x="0" y="0" font-size="20.7" font-weight="bold" text-anchor="end" transform="translate(940.60 751.80) scale(0.95 1)" stroke="#000" stroke-width="0.1" stroke-linejoin="round">1.0</text>
<line x1="943.90" y1="656.75" x2="950.90" y2="656.75" stroke="#000" stroke-width="2.8" stroke-linecap="butt"/>
<text x="0" y="0" font-size="20.7" font-weight="bold" text-anchor="end" transform="translate(940.60 663.25) scale(0.95 1)" stroke="#000" stroke-width="0.1" stroke-linejoin="round">1.5</text>
<line x1="1012.30" y1="922.40" x2="1012.30" y2="929.90" stroke="#000" stroke-width="2.8" stroke-linecap="butt"/>
<line x1="1104.00" y1="922.40" x2="1104.00" y2="929.90" stroke="#000" stroke-width="2.8" stroke-linecap="butt"/>
<line x1="1195.70" y1="922.40" x2="1195.70" y2="929.90" stroke="#000" stroke-width="2.8" stroke-linecap="butt"/>
<line x1="1287.40" y1="922.40" x2="1287.40" y2="929.90" stroke="#000" stroke-width="2.8" stroke-linecap="butt"/>
<text x="1018.30" y="946.40" font-size="19.25" font-weight="normal" text-anchor="end" transform="rotate(-45 1018.30 946.40)" stroke="#000" stroke-width="0.3" stroke-linejoin="round">WT</text>
<text x="1108.20" y="948.50" font-size="19.25" font-weight="normal" text-anchor="end" transform="rotate(-45 1108.20 948.50)" stroke="#000" stroke-width="0.3" stroke-linejoin="round"><tspan font-style="italic" style="font-size:1.035em">lmo1079</tspan>-sub1</text>
<text x="1197.30" y="951.70" font-size="19.25" font-weight="normal" text-anchor="end" transform="rotate(-45 1197.30 951.70)" stroke="#000" stroke-width="0.3" stroke-linejoin="round"><tspan font-style="italic" style="font-size:1.035em">lmo1083</tspan>-sub</text>
<text x="1284.80" y="948.40" font-size="19.25" font-weight="normal" text-anchor="end" transform="rotate(-45 1284.80 948.40)" stroke="#000" stroke-width="0.3" stroke-linejoin="round"><tspan font-style="italic" style="font-size:1.035em">lmo1079</tspan>-sub1</text>
<text x="1302.86" y="970.16" font-size="19.25" font-weight="normal" text-anchor="end" transform="rotate(-45 1302.86 970.16)" stroke="#000" stroke-width="0.3" stroke-linejoin="round">-<tspan font-style="italic" style="font-size:1.035em">lmo1083</tspan>-sub</text>
<text x="40.2" y="318.0" font-size="26" font-weight="bold" transform="rotate(-90 40.2 318.0)">OD<tspan font-size="17.5" dy="5.5" dx="0">600</tspan></text>
<text x="707.2" y="314.2" font-size="25.5" font-weight="bold" transform="rotate(-90 707.2 314.2)">OD<tspan font-size="19" dy="5.5" dx="0">600</tspan></text>
<text x="0" y="0" font-size="20" font-weight="bold" text-anchor="middle" transform="translate(57.00 788.25) rotate(-90) scale(0.95 1)">% Cells in hydrophilic phase</text>
<text x="901.90" y="788.90" font-size="19.6" font-weight="bold" text-anchor="middle" transform="rotate(-90 901.90 788.90)">Mean fluorescence Ratio (mut/WT)</text>
<rect x="1308.50" y="157.60" width="28.50" height="14.40" fill="#000000"/>
<rect x="1308.50" y="194.20" width="28.50" height="14.30" fill="#9a0000"/>
<rect x="1308.50" y="232.30" width="28.50" height="14.60" fill="#ff0000"/>
<rect x="1308.50" y="269.50" width="28.50" height="14.30" fill="#00007f"/>
<rect x="1308.50" y="320.30" width="28.50" height="13.60" fill="#41005a"/>
<rect x="1308.50" y="370.10" width="28.50" height="15.90" fill="#f94444"/>
<rect x="1308.50" y="408.20" width="28.50" height="16.50" fill="#0000c8"/>
<text x="1353.50" y="172.30" font-size="21.15" font-weight="normal" text-anchor="start" stroke="#000" stroke-width="0.35" stroke-linejoin="round">WT</text>
<text x="1353.50" y="209.20" font-size="21.15" font-weight="normal" text-anchor="start" stroke="#000" stroke-width="0.35" stroke-linejoin="round"><tspan font-style="italic" style="font-size:1.035em">lmo1079</tspan>-sub1</text>
<text x="1353.50" y="247.60" font-size="21.15" font-weight="normal" text-anchor="start" stroke="#000" stroke-width="0.35" stroke-linejoin="round"><tspan font-style="italic" style="font-size:1.035em">lmo1079</tspan>-sub2</text>
<text x="1353.50" y="284.40" font-size="21.15" font-weight="normal" text-anchor="start" stroke="#000" stroke-width="0.35" stroke-linejoin="round"><tspan font-style="italic" style="font-size:1.035em">lmo1083</tspan>-sub</text>
<text x="1353.50" y="322.00" font-size="21.15" font-weight="normal" text-anchor="start" stroke="#000" stroke-width="0.35" stroke-linejoin="round"><tspan font-style="italic" style="font-size:1.035em">lmo1079</tspan>-sub1</text>
<text x="1353.50" y="348.20" font-size="21.15" font-weight="normal" text-anchor="start" stroke="#000" stroke-width="0.35" stroke-linejoin="round">-<tspan font-style="italic" style="font-size:1.035em">lmo1083</tspan>-sub</text>
<text x="1353.50" y="386.80" font-size="21.15" font-weight="normal" text-anchor="start" stroke="#000" stroke-width="0.35" stroke-linejoin="round">∆<tspan font-style="italic" style="font-size:1.035em">lmo1079</tspan></text>
<text x="1353.50" y="424.70" font-size="21.15" font-weight="normal" text-anchor="start" stroke="#000" stroke-width="0.35" stroke-linejoin="round">∆<tspan font-style="italic" style="font-size:1.035em">lmo1083</tspan></text>
</svg>
</body>
</html>
